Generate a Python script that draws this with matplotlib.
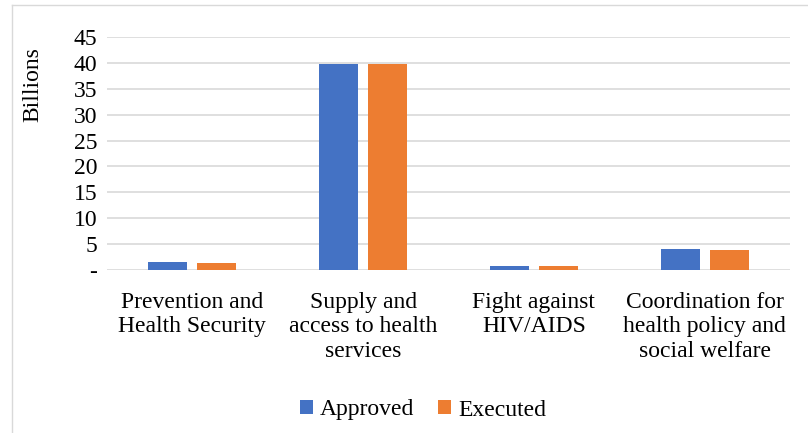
import matplotlib.pyplot as plt
import numpy as np
from matplotlib.lines import Line2D

categories = [
    "Prevention and\nHealth Security",
    "Supply and\naccess to health\nservices",
    "Fight against\nHIV/AIDS",
    "Coordination for\nhealth policy and\nsocial welfare",
]
approved = [1.55, 39.8, 0.85, 4.0]
executed = [1.35, 39.7, 0.8, 3.95]
yticks = [0, 5, 10, 15, 20, 25, 30, 35, 40, 45]
ytick_labels = ["-", "5", "10", "15", "20", "25", "30", "35", "40", "45"]

plt.rcParams["font.family"] = ["Liberation Serif", "DejaVu Serif"]

fig = plt.figure(figsize=(8.08, 4.33), dpi=100)
ax = fig.add_axes([107 / 808, 1 - 270 / 433, 683 / 808, 233 / 433])

x = np.arange(len(categories))
w = 0.228
ax.bar(x - 0.143, approved, w, color="#4472C4", label="Approved", zorder=3)
ax.bar(x + 0.143, executed, w, color="#ED7D31", label="Executed", zorder=3)

ax.set_xlim(-0.5, len(categories) - 0.5)
ax.set_ylim(0, 45)
ax.set_yticks(yticks)
ax.set_yticklabels(ytick_labels, fontsize=17)
ax.set_xticks(x)
ax.set_xticklabels(categories, fontsize=17, linespacing=1.2)
ax.tick_params(length=0, axis="y", pad=7)
ax.tick_params(length=0, axis="x", pad=16)
ax.grid(axis="y", color="#d9d9d9", linewidth=1.2, zorder=0)
for s in ax.spines.values():
    s.set_visible(False)

fig.text(33 / 808, 1 - 85 / 433, "Billions", rotation=90, fontsize=17,
         ha="center", va="center")

fig.legend(loc="center", bbox_to_anchor=(423 / 808, 1 - 410 / 433), ncol=2,
           frameon=False, fontsize=17, handlelength=0.55, handleheight=0.55,
           handletextpad=0.3, columnspacing=1.0)

# outer chart border (left and top edges visible)
fig.add_artist(Line2D([12 / 808, 12 / 808], [0, 1 - 5 / 433], color="#d9d9d9",
                      linewidth=1, transform=fig.transFigure))
fig.add_artist(Line2D([12 / 808, 1], [1 - 5 / 433, 1 - 5 / 433], color="#d9d9d9",
                      linewidth=1, transform=fig.transFigure))

fig.savefig("out.png", dpi=100)
